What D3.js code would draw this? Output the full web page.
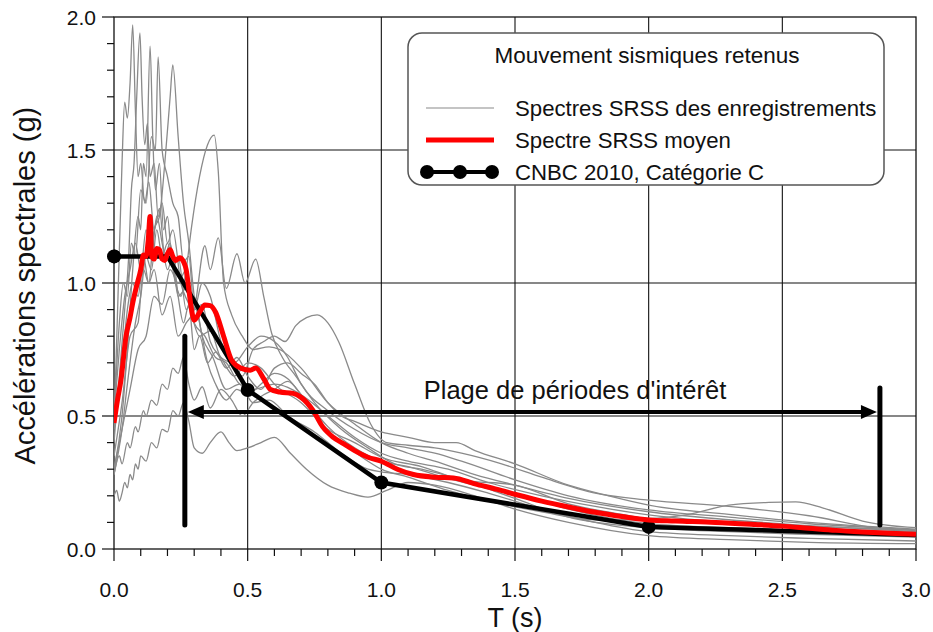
<!DOCTYPE html>
<html>
<head>
<meta charset="utf-8">
<script src="https://cdn.jsdelivr.net/npm/d3@7"></script>
<style>
  body { margin: 0; background: #fff; }
  text { font-family: "Liberation Sans", Arial, sans-serif; fill: #111; }
</style>
</head>
<body>
<svg id="chart" width="933" height="632"></svg>
<script>
// ---- data: [period T (s), spectral acceleration (g)] ----
const rec1 = [[0,0.45],[0.015,0.95],[0.03,1.45],[0.04,1.68],[0.05,1.62],[0.06,1.75],[0.07,1.97],[0.08,1.65],[0.09,1.40],[0.1,1.45],[0.115,1.30],[0.13,1.38],[0.15,1.20],[0.17,1.28],[0.19,1.10],[0.21,1.15],[0.24,0.95],[0.27,0.98],[0.3,0.85],[0.34,0.80],[0.38,0.72],[0.42,0.70],[0.47,0.62],[0.52,0.60],[0.6,0.62],[0.7,0.58],[0.8,0.50],[0.9,0.42],[1.0,0.36],[1.1,0.33],[1.25,0.30],[1.4,0.25],[1.6,0.20],[1.8,0.16],[2.0,0.128],[2.3,0.10],[2.6,0.08],[3.0,0.062]];
const rec2 = [[0,0.40],[0.02,0.65],[0.04,0.90],[0.055,1.10],[0.065,1.35],[0.075,1.45],[0.085,1.70],[0.097,1.94],[0.105,1.70],[0.115,1.52],[0.125,1.60],[0.135,1.40],[0.15,1.45],[0.165,1.25],[0.18,1.30],[0.2,1.15],[0.22,1.20],[0.25,1.00],[0.28,0.92],[0.32,0.80],[0.36,0.82],[0.4,0.72],[0.45,0.70],[0.5,0.76],[0.55,0.80],[0.6,0.78],[0.65,0.72],[0.7,0.62],[0.8,0.52],[0.9,0.45],[1.0,0.40],[1.1,0.38],[1.2,0.36],[1.3,0.33],[1.5,0.26],[1.7,0.20],[2.0,0.147],[2.3,0.12],[2.6,0.095],[3.0,0.072]];
const rec3 = [[0,0.30],[0.03,0.50],[0.05,0.75],[0.07,1.05],[0.09,1.25],[0.1,1.20],[0.11,1.45],[0.12,1.40],[0.135,1.89],[0.145,1.55],[0.155,1.35],[0.17,1.45],[0.185,1.20],[0.2,1.25],[0.22,1.05],[0.24,1.10],[0.27,0.90],[0.3,0.95],[0.33,0.80],[0.37,0.72],[0.42,0.60],[0.47,0.62],[0.52,0.55],[0.58,0.56],[0.65,0.50],[0.75,0.44],[0.85,0.36],[0.95,0.30],[1.0,0.29],[1.1,0.28],[1.25,0.25],[1.4,0.21],[1.6,0.15],[1.8,0.10],[2.0,0.065],[2.3,0.05],[2.6,0.04],[3.0,0.03]];
const rec4 = [[0,0.48],[0.02,0.85],[0.035,1.00],[0.05,0.95],[0.065,1.15],[0.08,1.10],[0.1,1.35],[0.12,1.30],[0.14,1.55],[0.155,1.50],[0.165,1.85],[0.18,1.50],[0.2,1.40],[0.22,1.30],[0.24,1.25],[0.26,1.08],[0.28,1.10],[0.3,0.90],[0.33,0.92],[0.36,0.78],[0.4,0.72],[0.45,0.65],[0.5,0.70],[0.55,0.68],[0.6,0.62],[0.7,0.55],[0.8,0.45],[0.9,0.40],[1.0,0.345],[1.15,0.31],[1.3,0.26],[1.5,0.24],[1.7,0.17],[1.9,0.13],[2.0,0.115],[2.15,0.13],[2.3,0.165],[2.45,0.175],[2.55,0.177],[2.65,0.155],[2.8,0.105],[3.0,0.08]];
const rec5 = [[0,0.35],[0.03,0.55],[0.06,0.80],[0.09,0.85],[0.11,1.05],[0.13,1.00],[0.15,1.20],[0.17,1.25],[0.19,1.45],[0.21,1.70],[0.22,1.82],[0.24,1.55],[0.26,1.30],[0.28,1.15],[0.3,0.95],[0.32,0.85],[0.35,0.70],[0.38,0.62],[0.42,0.56],[0.46,0.60],[0.5,0.58],[0.55,0.62],[0.6,0.66],[0.65,0.64],[0.7,0.58],[0.8,0.46],[0.9,0.38],[1.0,0.33],[1.1,0.31],[1.2,0.28],[1.35,0.24],[1.5,0.21],[1.7,0.15],[2.0,0.095],[2.3,0.08],[2.6,0.07],[3.0,0.055]];
const rec6 = [[0,0.28],[0.03,0.45],[0.05,0.62],[0.08,0.85],[0.1,0.95],[0.12,1.10],[0.14,1.05],[0.16,1.20],[0.18,1.10],[0.2,1.15],[0.23,1.00],[0.25,0.95],[0.27,1.05],[0.29,1.21],[0.32,1.40],[0.35,1.52],[0.375,1.556],[0.39,1.42],[0.41,1.00],[0.44,0.88],[0.48,0.80],[0.52,0.75],[0.58,0.76],[0.62,0.75],[0.7,0.68],[0.8,0.55],[0.9,0.47],[1.0,0.40],[1.1,0.36],[1.2,0.33],[1.35,0.28],[1.5,0.24],[1.7,0.19],[2.0,0.14],[2.3,0.11],[2.6,0.088],[3.0,0.065]];
const rec7 = [[0,0.45],[0.03,0.70],[0.05,0.90],[0.07,1.00],[0.09,0.95],[0.11,1.10],[0.13,1.00],[0.15,1.05],[0.18,0.88],[0.21,0.95],[0.24,0.80],[0.27,0.85],[0.3,0.90],[0.34,1.14],[0.36,1.05],[0.39,1.17],[0.42,0.98],[0.46,1.11],[0.49,1.00],[0.53,1.09],[0.56,0.95],[0.59,0.81],[0.63,0.72],[0.68,0.65],[0.75,0.55],[0.85,0.45],[0.95,0.38],[1.05,0.32],[1.15,0.30],[1.3,0.26],[1.5,0.19],[1.7,0.12],[2.0,0.08],[2.3,0.065],[2.6,0.055],[3.0,0.045]];
const rec8 = [[0,0.30],[0.03,0.45],[0.06,0.60],[0.09,0.75],[0.12,0.80],[0.15,0.95],[0.18,0.92],[0.21,1.05],[0.24,1.00],[0.27,1.05],[0.3,0.90],[0.33,1.00],[0.36,0.95],[0.4,0.78],[0.44,0.70],[0.48,0.65],[0.52,0.75],[0.56,0.78],[0.6,0.80],[0.64,0.78],[0.68,0.84],[0.72,0.87],[0.76,0.88],[0.8,0.85],[0.84,0.78],[0.9,0.62],[0.96,0.47],[1.02,0.40],[1.1,0.39],[1.2,0.38],[1.3,0.36],[1.45,0.32],[1.6,0.27],[1.8,0.21],[2.0,0.184],[2.3,0.16],[2.6,0.125],[2.85,0.08],[3.0,0.07]];
const rec9 = [[0,0.20],[0.01,0.22],[0.02,0.18],[0.03,0.21],[0.04,0.25],[0.05,0.23],[0.06,0.28],[0.07,0.26],[0.08,0.32],[0.09,0.30],[0.1,0.35],[0.12,0.33],[0.14,0.40],[0.16,0.38],[0.18,0.45],[0.2,0.44],[0.22,0.52],[0.24,0.50],[0.26,0.55],[0.28,0.48],[0.3,0.38],[0.33,0.36],[0.36,0.40],[0.4,0.44],[0.43,0.40],[0.46,0.37],[0.5,0.38],[0.55,0.40],[0.6,0.42],[0.66,0.36],[0.72,0.30],[0.8,0.24],[0.88,0.21],[0.95,0.195],[1.02,0.22],[1.1,0.25],[1.2,0.24],[1.35,0.20],[1.5,0.15],[1.7,0.10],[2.0,0.05],[2.3,0.035],[2.6,0.025],[3.0,0.02]];
const rec10 = [[0,0.28],[0.02,0.35],[0.03,0.32],[0.05,0.40],[0.06,0.38],[0.08,0.46],[0.09,0.44],[0.11,0.52],[0.12,0.50],[0.14,0.56],[0.16,0.54],[0.18,0.62],[0.2,0.60],[0.22,0.68],[0.24,0.66],[0.26,0.72],[0.28,0.62],[0.3,0.56],[0.33,0.61],[0.36,0.53],[0.4,0.60],[0.44,0.56],[0.48,0.50],[0.52,0.55],[0.56,0.58],[0.6,0.60],[0.65,0.63],[0.7,0.58],[0.75,0.50],[0.8,0.44],[0.88,0.38],[0.95,0.33],[1.0,0.30],[1.1,0.27],[1.25,0.22],[1.4,0.18],[1.6,0.14],[1.8,0.11],[2.0,0.11],[2.3,0.095],[2.6,0.085],[3.0,0.07]];
const rec11 = [[0,0.50],[0.02,0.75],[0.04,0.95],[0.06,1.05],[0.08,1.15],[0.1,1.05],[0.12,1.20],[0.14,1.10],[0.16,1.25],[0.18,1.15],[0.2,1.05],[0.22,1.10],[0.24,0.95],[0.26,0.85],[0.28,0.92],[0.3,0.75],[0.32,0.80],[0.35,0.70],[0.38,0.74],[0.42,0.68],[0.46,0.72],[0.5,0.65],[0.55,0.60],[0.6,0.68],[0.65,0.70],[0.7,0.66],[0.75,0.62],[0.8,0.55],[0.85,0.50],[0.9,0.48],[1.0,0.44],[1.1,0.42],[1.2,0.40],[1.28,0.40],[1.35,0.37],[1.5,0.32],[1.7,0.24],[1.85,0.20],[2.0,0.165],[2.3,0.13],[2.6,0.10],[3.0,0.075]];
const records = [rec1, rec2, rec3, rec4, rec5, rec6, rec7, rec8, rec9, rec10, rec11];

const meanSpectrum = [[0,0.474],[0.013,0.56],[0.026,0.635],[0.045,0.80],[0.06,0.87],[0.07,0.925],[0.085,0.99],[0.1,1.05],[0.11,1.105],[0.12,1.10],[0.128,1.16],[0.135,1.25],[0.141,1.10],[0.15,1.09],[0.16,1.13],[0.17,1.125],[0.18,1.09],[0.19,1.085],[0.2,1.11],[0.21,1.125],[0.22,1.10],[0.23,1.085],[0.246,1.095],[0.26,1.08],[0.27,1.05],[0.28,0.975],[0.29,0.90],[0.3,0.86],[0.32,0.89],[0.34,0.917],[0.36,0.915],[0.38,0.89],[0.41,0.80],[0.44,0.71],[0.475,0.68],[0.51,0.672],[0.53,0.68],[0.56,0.64],[0.585,0.60],[0.62,0.59],[0.67,0.585],[0.7,0.57],[0.745,0.52],[0.78,0.46],[0.82,0.42],[0.86,0.395],[0.9,0.37],[0.95,0.345],[1.0,0.330],[1.06,0.30],[1.12,0.28],[1.2,0.27],[1.27,0.267],[1.35,0.245],[1.43,0.225],[1.51,0.203],[1.6,0.18],[1.7,0.158],[1.8,0.138],[1.9,0.122],[2.0,0.109],[2.1,0.105],[2.25,0.10],[2.4,0.092],[2.5,0.086],[2.6,0.078],[2.7,0.07],[2.8,0.064],[2.9,0.059],[3.0,0.055]];

const cnbcT = [0, 0.2, 0.5, 1.0, 2.0, 3.0];
const cnbcSa = [1.10, 1.10, 0.598, 0.25, 0.083, 0.053];
const cnbcMarkers = [0, 0.5, 1.0, 2.0];

const xMajor = [0, 0.5, 1.0, 1.5, 2.0, 2.5, 3.0];
const yMajor = [0, 0.5, 1.0, 1.5, 2.0];
const intervalT = [0.265, 2.865];      // plage de périodes d'intérêt
const intervalArrowSa = 0.515;
const barTopSa = [0.80, 0.605];
const barBottomSa = 0.09;

// ---- setup ----
const svg = d3.select("#chart");
const x = d3.scaleLinear().domain([0, 3]).range([114, 916]);
const y = d3.scaleLinear().domain([0, 2]).range([549, 17]);

svg.append("defs").append("clipPath").attr("id", "plot")
  .append("rect").attr("x", x(0)).attr("y", y(2))
  .attr("width", x(3) - x(0)).attr("height", y(0) - y(2));

// grid
const grid = svg.append("g").attr("stroke", "#111").attr("stroke-width", 1.1);
xMajor.slice(1, -1).forEach(v => grid.append("line")
  .attr("x1", x(v)).attr("x2", x(v)).attr("y1", y(0)).attr("y2", y(2)));
yMajor.slice(1, -1).forEach(v => grid.append("line")
  .attr("x1", x(0)).attr("x2", x(3)).attr("y1", y(v)).attr("y2", y(v)));

// ticks (minor every 0.1)
const ticks = svg.append("g").attr("stroke", "#111").attr("stroke-width", 1.2);
d3.range(0, 31).forEach(i => {
  const v = i / 10, major = i % 5 === 0;
  ticks.append("line").attr("x1", x(v)).attr("x2", x(v))
    .attr("y1", y(0)).attr("y2", y(0) + (major ? 12 : 7));
});
d3.range(0, 21).forEach(i => {
  const v = i / 10, major = i % 5 === 0;
  ticks.append("line").attr("y1", y(v)).attr("y2", y(v))
    .attr("x1", x(0)).attr("x2", x(0) - (major ? 12 : 7));
});

// frame
svg.append("rect").attr("x", x(0)).attr("y", y(2))
  .attr("width", x(3) - x(0)).attr("height", y(0) - y(2))
  .attr("fill", "none").attr("stroke", "#111").attr("stroke-width", 1.3);

// tick labels
svg.append("g").selectAll("text").data(xMajor).join("text")
  .attr("x", d => x(d)).attr("y", 597).attr("text-anchor", "middle")
  .style("font-size", "21px").text(d => d.toFixed(1));
svg.append("g").selectAll("text").data(yMajor).join("text")
  .attr("x", 96).attr("y", d => y(d) + 7.5).attr("text-anchor", "end")
  .style("font-size", "21px").text(d => d.toFixed(1));

// axis titles
svg.append("text").attr("x", x(1.5)).attr("y", 627).attr("text-anchor", "middle")
  .style("font-size", "27px").text("T (s)");
svg.append("text").attr("transform", `translate(35, ${y(0.99)}) rotate(-90)`)
  .attr("text-anchor", "middle").style("font-size", "29px")
  .text("Accélérations spectrales (g)");

// curves
const line = d3.line().x(d => x(d[0])).y(d => y(d[1])).curve(d3.curveMonotoneX);
const plot = svg.append("g").attr("clip-path", "url(#plot)");

plot.selectAll(".rec").data(records).join("path")
  .attr("class", "rec").attr("d", line)
  .attr("fill", "none").attr("stroke", "#8a8a8a").attr("stroke-width", 1.3);

const cnbc = cnbcT.map((t, i) => [t, cnbcSa[i]]);
plot.append("path").datum(cnbc)
  .attr("d", d3.line().x(d => x(d[0])).y(d => y(d[1])))
  .attr("fill", "none").attr("stroke", "#000").attr("stroke-width", 4.5);
plot.selectAll(".mk").data(cnbc.filter(d => cnbcMarkers.includes(d[0]))).join("circle")
  .attr("class", "mk").attr("cx", d => x(d[0])).attr("cy", d => y(d[1]))
  .attr("r", 7).attr("fill", "#000");
svg.selectAll(".mk0").data(cnbc.filter(d => d[0] === 0)).join("circle")
  .attr("cx", d => x(d[0])).attr("cy", d => y(d[1])).attr("r", 7).attr("fill", "#000");

plot.append("path").datum(meanSpectrum)
  .attr("d", d3.line().x(d => x(d[0])).y(d => y(d[1])).curve(d3.curveMonotoneX))
  .attr("fill", "none").attr("stroke", "#ff0000").attr("stroke-width", 5)
  .attr("stroke-linejoin", "round");

// interval annotation
const ann = svg.append("g");
intervalT.forEach((t, i) => ann.append("line")
  .attr("x1", x(t)).attr("x2", x(t)).attr("y1", y(barTopSa[i])).attr("y2", y(barBottomSa))
  .attr("stroke", "#000").attr("stroke-width", 5).attr("stroke-linecap", "round"));
const ay = y(intervalArrowSa);
const xl = x(intervalT[0]) + 3, xr = x(intervalT[1]) - 3;
ann.append("line").attr("x1", xl + 12).attr("x2", xr - 12).attr("y1", ay).attr("y2", ay)
  .attr("stroke", "#000").attr("stroke-width", 4);
ann.append("path").attr("d", `M${xl},${ay}L${xl + 16},${ay - 7}L${xl + 16},${ay + 7}Z`).attr("fill", "#000");
ann.append("path").attr("d", `M${xr},${ay}L${xr - 16},${ay - 7}L${xr - 16},${ay + 7}Z`).attr("fill", "#000");
ann.append("text").attr("x", 575).attr("y", 399).attr("text-anchor", "middle")
  .style("font-size", "25.5px").text("Plage de périodes d'intérêt");

// legend
const lg = svg.append("g");
lg.append("rect").attr("x", 408).attr("y", 33).attr("width", 476).attr("height", 152)
  .attr("rx", 14).attr("fill", "#fff").attr("stroke", "#555").attr("stroke-width", 1.5);
lg.append("text").attr("x", 647).attr("y", 63).attr("text-anchor", "middle")
  .style("font-size", "22.5px").text("Mouvement sismiques retenus");
const items = [
  { label: "Spectres SRSS des enregistrements", y: 108, color: "#8a8a8a", w: 1.1 },
  { label: "Spectre SRSS moyen", y: 140, color: "#ff0000", w: 5 },
  { label: "CNBC 2010, Catégorie C", y: 172, color: "#000", w: 4, markers: true }
];
items.forEach(it => {
  lg.append("line").attr("x1", 426).attr("x2", 494).attr("y1", it.y).attr("y2", it.y)
    .attr("stroke", it.color).attr("stroke-width", it.w);
  if (it.markers) [427, 460, 492].forEach(cx => lg.append("circle")
    .attr("cx", cx).attr("cy", it.y).attr("r", 7).attr("fill", "#000"));
  lg.append("text").attr("x", 515).attr("y", it.y + 8).style("font-size", "22.2px").text(it.label);
});
</script>
</body>
</html>
